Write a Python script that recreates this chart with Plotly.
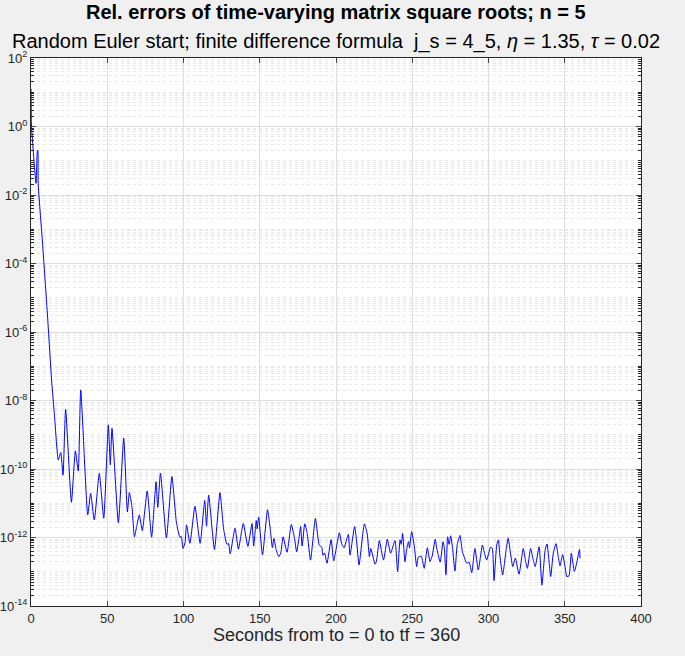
import numpy as np
import plotly.graph_objects as go

# time in seconds and log10 of the relative error
t_sec = [0.0, 0.2, 0.4, 3.3, 4.2, 4.5, 4.7, 7.4, 10.5, 13.5, 15.5, 17.9, 19.5, 21.0, 22.7,
         26.5, 29.1, 31.0, 32.6, 37.2, 39.1, 41.5, 44.8, 47.7, 50.7, 52.0, 53.1, 57.3, 60.8,
         63.2, 64.5, 66.2, 67.8, 69.3, 71.0, 73.0, 76.2, 79.1, 82.0, 83.1, 84.9, 88.8, 92.4,
         95.3, 97.6, 98.5, 99.7, 101.0, 102.0, 104.2, 107.5, 110.9, 113.9, 115.1, 116.5,
         120.3, 123.9, 126.3, 128.5, 129.5, 130.6, 133.8, 136.0, 139.2, 142.2, 144.9, 146.0,
         147.7, 148.3, 149.3, 151.8, 155.1, 157.0, 158.3, 159.3, 160.7, 162.5, 163.8, 165.3,
         167.9, 170.7, 172.7, 174.2, 175.8, 176.8, 177.8, 179.5, 181.0, 183.3, 186.5, 189.0,
         190.6, 191.5, 192.5, 194.1, 196.8, 198.5, 202.2, 203.8, 205.3, 206.6, 208.1, 209.2,
         212.2, 213.5, 215.1, 218.6, 220.5, 221.9, 222.8, 225.6, 226.5, 228.4, 230.5, 231.2,
         233.7, 235.8, 238.7, 240.4, 242.0, 242.8, 243.7, 245.2, 246.4, 247.5, 248.2, 249.6,
         251.4, 252.9, 254.0, 256.0, 257.8, 259.9, 261.6, 263.0, 265.1, 266.0, 268.3, 270.2,
         271.0, 272.1, 273.2, 274.2, 275.2, 276.4, 278.0, 279.5, 281.3, 282.8, 284.3, 285.7,
         287.3, 289.0, 291.1, 293.3, 296.0, 297.6, 298.8, 301.4, 302.5, 303.6, 305.4, 306.5,
         307.5, 309.3, 311.6, 312.9, 314.4, 315.9, 317.6, 320.0, 322.8, 324.2, 325.5, 327.6,
         329.3, 330.6, 333.2, 335.0, 337.2, 338.4, 339.6, 340.8, 342.5, 344.3, 345.7, 346.9,
         348.6, 350.2, 351.3, 352.8, 354.3, 356.3, 357.8, 359.7, 360.0]
log_err = [1.10, 0.2, -0.05, -1.66, -0.69, -0.70, -1.66, -3.31, -5.3, -7.40, -8.5, -9.74, -9.52,
           -10.18, -8.26, -10.97, -9.47, -10.06, -7.69, -11.34, -10.71, -11.49, -10.13, -11.44,
           -8.71, -9.88, -8.81, -11.57, -9.10, -11.25, -10.69, -11.10, -11.98, -11.68, -11.34,
           -11.80, -10.64, -11.99, -10.37, -11.12, -10.12, -12.01, -10.22, -11.54, -11.99,
           -11.97, -12.32, -12.15, -11.63, -12.17, -11.09, -12.17, -10.92, -11.67, -10.76,
           -12.35, -10.69, -11.75, -12.2, -12.17, -12.48, -11.73, -12.34, -11.59, -12.26,
           -11.59, -12.25, -11.50, -11.75, -11.40, -12.51, -11.19, -11.8, -12.3, -12.03,
           -12.35, -12.56, -12.45, -11.98, -12.43, -11.62, -12.0, -12.42, -12.0, -11.68,
           -12.25, -11.60, -11.85, -12.66, -11.44, -12.22, -12.28, -12.52, -12.45, -12.75,
           -12.06, -12.68, -11.86, -12.2, -12.3, -12.12, -11.91, -12.51, -11.68, -12.1,
           -12.80, -11.60, -11.9, -12.56, -12.32, -12.78, -12.70, -12.09, -12.55, -12.66,
           -12.05, -12.46, -12.09, -13.0, -12.07, -12.2, -11.88, -12.71, -12.33, -12.12,
           -12.3, -11.83, -12.27, -12.85, -12.57, -12.55, -12.90, -12.30, -12.70, -12.55,
           -12.05, -12.3, -12.72, -12.12, -12.3, -13.09, -11.98, -12.2, -11.95, -12.3,
           -12.98, -12.2, -11.94, -12.40, -12.60, -12.75, -12.72, -13.03, -12.32, -12.95,
           -12.22, -12.5, -12.66, -12.28, -12.32, -13.26, -12.22, -12.07, -12.55, -13.09,
           -12.35, -12.02, -12.45, -12.85, -12.60, -13.07, -12.32, -12.67, -12.90, -12.32,
           -12.65, -12.85, -12.27, -13.39, -12.35, -12.19, -12.65, -13.14, -12.45, -12.18,
           -12.55, -12.83, -12.50, -12.85, -13.14, -13.12, -12.46, -12.99, -12.75, -12.35,
           -12.61]

x_ticks = [0, 50, 100, 150, 200, 250, 300, 350, 400]
y_exps = [2, 0, -2, -4, -6, -8, -10, -12, -14]

err = 10.0 ** np.array(log_err)

# minor grid: every 1..9 x 10^k that is not a major tick
minor_vals = [m * 10.0 ** k for k in range(-14, 2) for m in range(1, 10)
              if not (m == 1 and k in y_exps)]

fig = go.Figure()
fig.add_trace(go.Scatter(x=t_sec, y=err, mode="lines",
                         line=dict(color="#0000ff", width=1, shape="spline", smoothing=0.5),
                         showlegend=False))

axis_col = "#262626"
grid_col = "#dedede"

fig.update_layout(
    width=685, height=656,
    paper_bgcolor="#f0f0f0", plot_bgcolor="white",
    margin=dict(l=31, r=44, t=58, b=50),
    font=dict(family="Liberation Sans, Arial, sans-serif", color=axis_col, size=13),
    xaxis=dict(range=[0, 400], tickvals=x_ticks, ticks="inside", ticklen=5,
               showline=True, mirror="ticks", linecolor=axis_col, linewidth=1,
               showgrid=True, gridcolor=grid_col, zeroline=False, automargin=False,
               tickfont=dict(size=13, color=axis_col)),
    yaxis=dict(type="log", range=[-14, 2],
               tickvals=[10.0 ** e for e in y_exps],
               ticktext=[f"10<sup>{e}</sup>" for e in y_exps],
               ticks="inside", ticklen=5,
               showline=True, mirror="ticks", linecolor=axis_col, linewidth=1,
               showgrid=True, gridcolor=grid_col, zeroline=False, automargin=False,
               tickfont=dict(size=13, color=axis_col),
               minor=dict(tickvals=minor_vals, ticks="inside", ticklen=3,
                          tickcolor=axis_col, showgrid=True, gridcolor="#e8e8e8",
                          griddash="dot", gridwidth=1)),
)

fig.add_annotation(text="<b>Rel. errors of time-varying matrix square roots; n = 5</b>",
                   xref="paper", yref="paper", x=0.5, y=1, yshift=46,
                   xanchor="center", yanchor="middle", showarrow=False,
                   font=dict(size=20, color="black"))
fig.add_annotation(text="Random Euler start; finite difference formula  j_s = 4_5, "
                        "<i>η</i> = 1.35, <i>τ</i> = 0.02",
                   xref="paper", yref="paper", x=0.5, y=1, yshift=17,
                   xanchor="center", yanchor="middle", showarrow=False,
                   font=dict(size=20, color="black"))
fig.add_annotation(text="Seconds from to = 0 to tf = 360",
                   xref="paper", yref="paper", x=0.5, y=0, yshift=-29,
                   xanchor="center", yanchor="middle", showarrow=False,
                   font=dict(size=18, color=axis_col))

# drop the browser's default 8px body margin so the figure fills the window
fig.write_html("out.html", config={"displayModeBar": False},
               post_script="document.body.style.margin = '0';")
